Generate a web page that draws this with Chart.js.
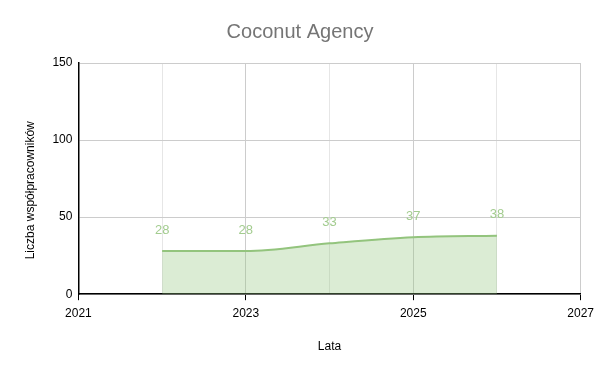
<!DOCTYPE html>
<html lang="pl">
<head>
<meta charset="UTF-8">
<title>Coconut Agency</title>
<script src="https://cdn.jsdelivr.net/npm/chart.js"></script>
<style>
  html, body { margin: 0; padding: 0; background: #fff; }
  .wrap { width: 600px; height: 371px; }
</style>
</head>
<body>
<div class="wrap"><canvas id="c" width="600" height="371"></canvas></div>
<script>
// dane
const years = [2022, 2023, 2024, 2025, 2026];
const coworkers = [28, 28, 33, 37, 38];
const xTicks = [2021, 2023, 2025, 2027];
const yTicks = [0, 50, 100, 150];

const lineColor = '#93c47d';
const labelColor = '#a3cc8f';
const font = '"Liberation Sans", Arial, sans-serif';

// etykiety nad punktami
const pointLabels = {
  id: 'pointLabels',
  afterDatasetsDraw(chart) {
    const ctx = chart.ctx;
    const meta = chart.getDatasetMeta(0);
    ctx.save();
    ctx.font = '13px ' + font;
    ctx.fillStyle = labelColor;
    ctx.textAlign = 'center';
    ctx.textBaseline = 'middle';
    meta.data.forEach((pt, i) => {
      ctx.fillText(String(coworkers[i]), pt.x, pt.y - 21);
    });
    ctx.restore();
  }
};

new Chart(document.getElementById('c'), {
  type: 'line',
  data: {
    datasets: [{
      data: years.map((y, i) => ({ x: y, y: coworkers[i] })),
      borderColor: lineColor,
      backgroundColor: 'rgba(147,196,125,0.33)',
      borderWidth: 2,
      fill: 'origin',
      pointRadius: 0,
      cubicInterpolationMode: 'monotone'
    }]
  },
  options: {
    responsive: false,
    animation: false,
    layout: { padding: { left: 19, right: 19, top: 4, bottom: 17 } },
    plugins: {
      legend: { display: false },
      tooltip: { enabled: false },
      title: {
        display: true,
        text: 'Coconut Agency',
        color: '#757575',
        font: { family: font, size: 20, weight: 'normal' },
        padding: { top: 16, bottom: 19 }
      }
    },
    scales: {
      x: {
        type: 'linear',
        min: 2021,
        max: 2027,
        afterBuildTicks: axis => {
          axis.ticks = [2021, 2022, 2023, 2024, 2025, 2026, 2027].map(v => ({ value: v }));
        },
        ticks: {
          color: '#000',
          font: { family: font, size: 12 },
          maxRotation: 0,
          autoSkip: false,
          padding: 6,
          callback: v => xTicks.includes(v) ? String(v) : ''
        },
        grid: {
          color: ctx => (ctx.tick && xTicks.includes(ctx.tick.value)) ? '#cccccc' : '#e6e6e6',
          tickColor: ctx => (ctx.tick && xTicks.includes(ctx.tick.value)) ? '#000' : 'rgba(0,0,0,0)',
          tickLength: 6
        },
        border: { color: '#000', width: 1.5 },
        title: {
          display: true,
          text: 'Lata',
          color: '#000',
          font: { family: font, size: 12 },
          padding: { top: 13, bottom: 0 }
        }
      },
      y: {
        min: 0,
        max: 150,
        afterBuildTicks: axis => {
          axis.ticks = yTicks.map(v => ({ value: v }));
        },
        ticks: {
          color: '#000',
          font: { family: font, size: 12 },
          padding: 6
        },
        grid: {
          color: '#cccccc',
          drawTicks: false
        },
        border: { color: '#000', width: 1.5 },
        title: {
          display: true,
          // spacje na końcu przesuwają napis w dół, jak w oryginale
          text: 'Liczba współpracowników       ',
          color: '#000',
          font: { family: font, size: 12 },
          padding: { top: 4, bottom: 9 }
        }
      }
    }
  },
  plugins: [pointLabels]
});
</script>
</body>
</html>
